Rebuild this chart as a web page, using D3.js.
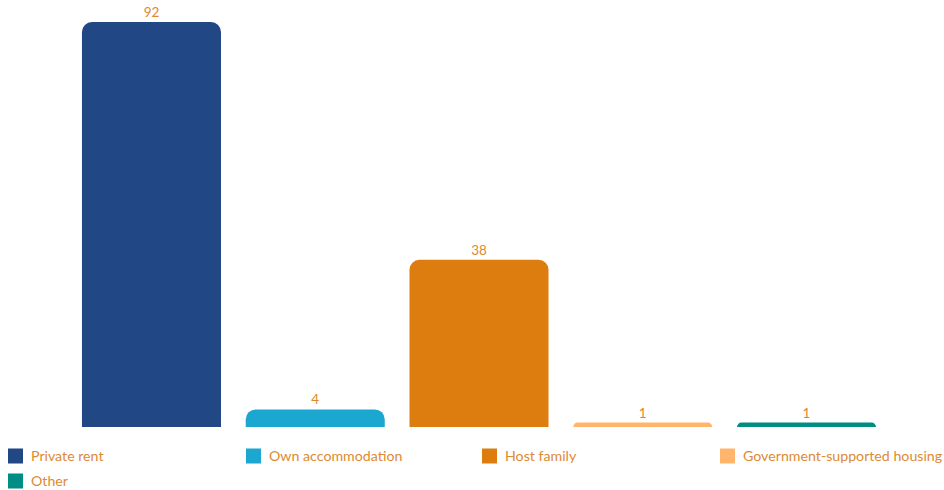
<!DOCTYPE html>
<html><head><meta charset="utf-8">
<script src="https://cdn.jsdelivr.net/npm/d3@7"></script>
<style>body{margin:0;background:#fff}svg{display:block}</style>
</head><body>
<svg id="c" width="944" height="490"></svg>
<script>
const categories = ["Private rent","Own accommodation","Host family","Government-supported housing","Other"];
const values = [92,4,38,1,1];
const colors = ["#224785","#1ba7cf","#dd7d10","#ffb56b","#008d84"];

const svg = d3.select("#c");
const font = "'Source Sans Pro', Lato, 'Noto Sans', sans-serif";
const baseY = 427;
const x = d3.scaleBand().domain(categories).range([69.6, 888.4]).paddingInner(0.151).paddingOuter(0.0755);
const y = d3.scaleLinear().domain([0, 92]).range([baseY, 22]);

function topRounded(x0, y0, w, h, r) {
  r = Math.min(r, h, w/2);
  const p = d3.path();
  p.moveTo(x0, y0 + h);
  p.lineTo(x0, y0 + r);
  p.arcTo(x0, y0, x0 + r, y0, r);
  p.lineTo(x0 + w - r, y0);
  p.arcTo(x0 + w, y0, x0 + w, y0 + r, r);
  p.lineTo(x0 + w, y0 + h);
  p.closePath();
  return p.toString();
}

const g = svg.append("g");
categories.forEach((c, i) => {
  const x0 = x(c), w = x.bandwidth(), yt = y(values[i]), h = baseY - yt;
  g.append("path").attr("d", topRounded(x0, yt, w, h, 10)).attr("fill", colors[i]);
  g.append("text").attr("x", x0 + w/2).attr("y", yt - 5).attr("text-anchor","middle")
    .attr("font-family", font).attr("font-size", 13.5).attr("fill", "#e0892c").text(values[i]);
});

const legendX = [8, 246, 482, 720, 8];
const legendY = [456, 456, 456, 456, 481];
const lg = svg.append("g");
categories.forEach((c, i) => {
  lg.append("rect").attr("x", legendX[i]).attr("y", legendY[i] - 7.5).attr("width", 15).attr("height", 15)
    .attr("fill", colors[i]);
  lg.append("text").attr("x", legendX[i] + 23).attr("y", legendY[i] + 5)
    .attr("font-family", font).attr("font-size", 14.2).attr("fill", "#dd8a34").text(c);
});
</script>
</body></html>
